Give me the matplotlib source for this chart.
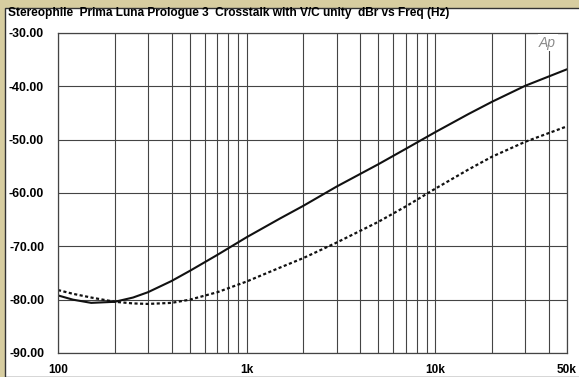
import matplotlib
matplotlib.use("Agg")
import matplotlib.pyplot as plt
from matplotlib.patches import Rectangle
from matplotlib.ticker import LogLocator, NullFormatter

# frequency points (Hz)
freq = [100, 120, 150, 200, 250, 300, 400, 500, 700, 1000, 1500, 2000,
        3000, 5000, 7000, 10000, 15000, 20000, 30000, 50000]
# solid trace (dBr)
ch_solid = [-79.2, -80.0, -80.6, -80.4, -79.6, -78.6, -76.5, -74.6, -71.6, -68.3,
            -64.8, -62.4, -58.8, -54.6, -51.7, -48.6, -45.2, -42.9, -39.9, -36.8]
# dotted trace (dBr)
ch_dotted = [-78.2, -78.9, -79.6, -80.4, -80.7, -80.8, -80.6, -80.0, -78.6, -76.6,
             -74.0, -72.2, -69.3, -65.4, -62.5, -59.2, -55.6, -53.2, -50.4, -47.5]

yticks = [-30, -40, -50, -60, -70, -80, -90]
ytick_labels = ["-30.00", "-40.00", "-50.00", "-60.00", "-70.00", "-80.00", "-90.00"]
xticks = [100, 1000, 10000, 50000]
xtick_labels = ["100", "1k", "10k", "50k"]

title = "Stereophile  Prima Luna Prologue 3  Crosstalk with V/C unity  dBr vs Freq (Hz)"

plt.rcParams["font.family"] = ["Liberation Sans", "DejaVu Sans"]

W, H = 579, 377
fig = plt.figure(figsize=(W / 100, H / 100), dpi=100)
fig.patch.set_facecolor("#d7cda0")

# white panel
panel = Rectangle((5 / W, 0), 1, (H - 8) / H, transform=fig.transFigure,
                  facecolor="white", edgecolor="#333333", linewidth=1.0, zorder=-10)
fig.patches.append(panel)

ax = fig.add_axes([58 / W, 1 - 353 / H, 509 / W, 320 / H])
ax.set_facecolor("white")
ax.set_xscale("log")
ax.set_xlim(100, 50000)
ax.set_ylim(-90, -30)

ax.plot(freq, ch_solid, color="#111111", lw=1.5, solid_capstyle="round")
ax.plot(freq, ch_dotted, color="#111111", lw=1.6, linestyle=(0, (1.4, 1.1)))

ax.xaxis.set_minor_locator(LogLocator(base=10, subs=range(2, 10)))
ax.xaxis.set_minor_formatter(NullFormatter())
ax.set_xticks(xticks)
ax.set_xticklabels(xtick_labels)
ax.set_yticks(yticks)
ax.set_yticklabels(ytick_labels)

ax.grid(True, which="both", axis="x", color="#444444", lw=0.8)
ax.grid(True, which="major", axis="y", color="#444444", lw=0.8)
ax.set_axisbelow(True)
ax.tick_params(which="both", length=0)
ax.tick_params(axis="x", pad=8, labelsize=8.5)
ax.tick_params(axis="y", pad=10, labelsize=8.8)
for lab in ax.get_xticklabels() + ax.get_yticklabels():
    lab.set_fontweight("bold")
for s in ax.spines.values():
    s.set_color("#444444")
    s.set_linewidth(0.9)

fig.text(8 / W, 1 - 13 / H, title, fontsize=8.6, fontweight="bold",
         ha="left", va="center")
ax.text(0.962, 0.97, "Ap", transform=ax.transAxes, fontsize=10, style="italic",
        color="#8a8a8a", ha="center", va="center",
        bbox=dict(facecolor="white", edgecolor="none", pad=1))

fig.savefig("out.png", dpi=100, facecolor=fig.get_facecolor())
